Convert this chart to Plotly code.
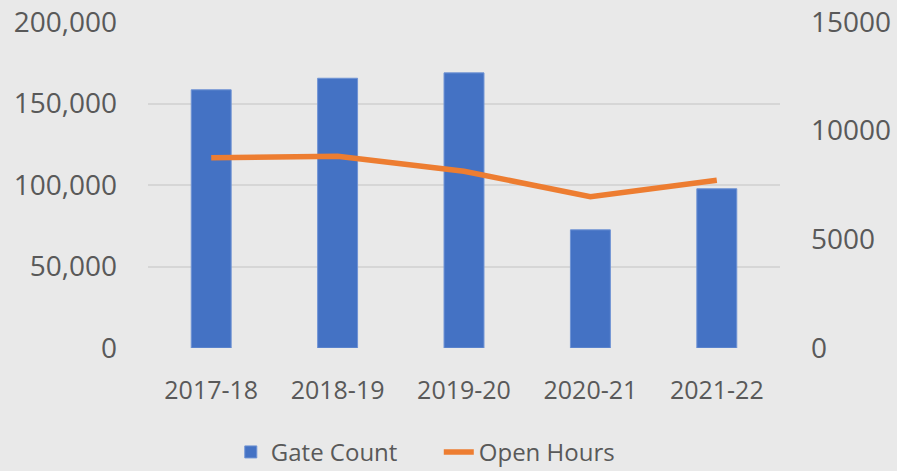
import plotly.graph_objects as go

years = ["2017-18", "2018-19", "2019-20", "2020-21", "2021-22"]
gate_count = [158400, 165500, 168800, 72500, 97700]
open_hours = [8750, 8820, 8130, 6960, 7720]

left_ticks = [0, 50000, 100000, 150000, 200000]
left_labels = ["0", "50,000", "100,000", "150,000", "200,000"]
right_ticks = [0, 5000, 10000, 15000]
right_labels = ["0", "5000", "10000", "15000"]

text_color = "#595959"
font_family = "Open Sans, Noto Sans, DejaVu Sans, sans-serif"

fig = go.Figure()
fig.add_trace(go.Bar(
    x=years, y=gate_count, name="Gate Count",
    marker=dict(color="#4472C4", line=dict(color="#6f93d4", width=1)),
    yaxis="y",
))
fig.add_trace(go.Scatter(
    x=years, y=open_hours, name="Open Hours", mode="lines",
    line=dict(color="#ED7D31", width=5.5),
    yaxis="y2",
))

fig.update_layout(
    width=897, height=471,
    margin=dict(l=148, r=117, t=22, b=123, autoexpand=False),
    paper_bgcolor="#e9e9e9",
    plot_bgcolor="#e9e9e9",
    font=dict(family=font_family, color=text_color, size=25),
    bargap=0.684,
    showlegend=True,
    legend=dict(
        orientation="h", x=0.131, xanchor="left", xref="paper",
        y=-0.32, yanchor="middle", yref="paper",
        font=dict(size=24, color=text_color),
        bgcolor="rgba(0,0,0,0)",
        entrywidth=163, entrywidthmode="pixels",
        traceorder="normal",
    ),
    xaxis=dict(
        showgrid=False, zeroline=False, showline=False,
        ticks="", tickfont=dict(size=25, color=text_color),
        ticklabelstandoff=25,
    ),
    yaxis=dict(
        range=[0, 200000], tickvals=left_ticks, ticktext=left_labels,
        showgrid=True, gridcolor="#d6d6d6", gridwidth=1.5,
        zeroline=False, showline=False, ticks="",
        tickfont=dict(size=28, color=text_color),
        ticklabelstandoff=30,
    ),
    yaxis2=dict(
        range=[0, 15000], tickvals=right_ticks, ticktext=right_labels,
        overlaying="y", side="right", showgrid=False, zeroline=False,
        showline=False, ticks="",
        tickfont=dict(size=28, color=text_color),
        ticklabelstandoff=30,
    ),
)

fig.write_html(
    "out.html",
    config={"displayModeBar": False},
    post_script="document.body.style.margin='0';document.body.style.background='#e9e9e9';",
)
